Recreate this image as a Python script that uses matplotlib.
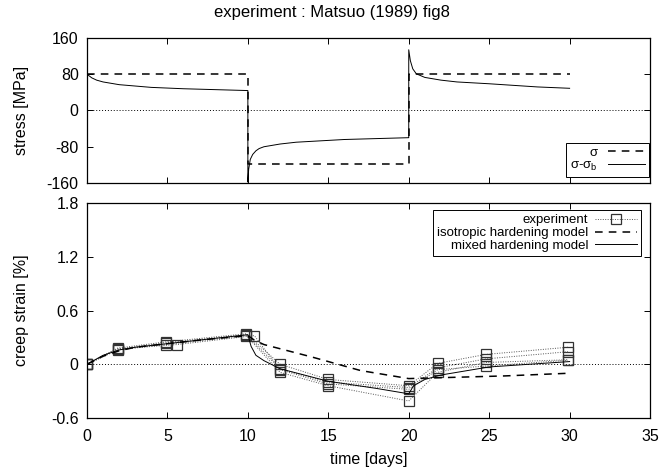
import numpy as np
import matplotlib
matplotlib.use("Agg")
from matplotlib import pyplot as plt

# --- stress panel ---
sig_t = [0, 10, 10, 20, 20, 30]
sig_v = [80, 80, -117, -117, 80, 80]

eff_t1 = [0, 0.3, 0.6, 1, 1.5, 2, 3, 4, 6, 8, 10]
eff_v1 = [80, 72, 67, 63, 60, 57, 54, 51, 48, 46, 44]
eff_t2 = [10, 10.05, 10.15, 10.3, 10.5, 10.7, 11, 12, 13, 14, 16, 18, 20]
eff_v2 = [-158, -130, -108, -97, -89, -84, -80, -74, -70, -68, -64, -62, -60]
eff_t3 = [20, 20.1, 20.25, 20.47, 21, 22, 23, 25, 28, 30]
eff_v3 = [134, 110, 92, 81, 73, 67, 63, 59, 52, 49]

# --- creep strain panel ---
exp_t = [0, 1.9, 4.9, 9.9, 12, 15, 20, 21.8, 24.8, 29.9]
exp_a = [0, 0.18, 0.25, 0.34, 0.0, -0.17, -0.24, 0.01, 0.11, 0.19]
exp_b = [0, 0.17, 0.24, 0.33, -0.05, -0.20, -0.26, -0.04, 0.06, 0.14]
exp_c = [0, 0.16, 0.22, 0.32, -0.09, -0.24, -0.41, -0.09, 0.02, 0.05]
exp_t_d = [0, 1.9, 5.6, 10.4, 12, 15, 20, 21.8, 24.8, 29.9]
exp_d = [0, 0.17, 0.22, 0.32, -0.06, -0.22, -0.28, -0.06, -0.02, 0.045]

iso_t = [0, 1, 2, 3, 5, 7, 10, 10.4, 11, 14, 17, 20, 22, 26, 30]
iso_v = [0, 0.09, 0.15, 0.19, 0.23, 0.27, 0.32, 0.27, 0.22, 0.08, -0.07, -0.16, -0.15, -0.13, -0.10]

mix_t = [0, 1, 2, 3, 5, 7, 10, 10.2, 10.5, 11, 12, 15, 18, 20,
         20.3, 21, 22, 25, 30]
mix_v = [0, 0.10, 0.16, 0.19, 0.23, 0.27, 0.33, 0.2, 0.1, 0.04, -0.05, -0.19, -0.27, -0.33,
         -0.24, -0.17, -0.12, -0.03, 0.03]

plt.rcParams['font.family'] = ['Liberation Sans', 'DejaVu Sans']
plt.rcParams['font.size'] = 11.5
plt.rcParams['mathtext.fontset'] = 'custom'
plt.rcParams['mathtext.rm'] = 'Liberation Sans'
plt.rcParams['axes.unicode_minus'] = False

fig = plt.figure(figsize=(6.64, 4.72), dpi=100)
ax1 = fig.add_axes([0.131, 0.6123, 0.848, 0.3072])
ax2 = fig.add_axes([0.131, 0.1144, 0.848, 0.4555])

for ax in (ax1, ax2):
    ax.tick_params(direction='in', top=True, right=True, length=4, width=0.7, labelsize=11.5)
    ax.tick_params(axis='x', pad=8)
    ax.tick_params(axis='y', pad=6)
    for s in ax.spines.values():
        s.set_linewidth(0.9)
    ax.axhline(0, color='black', lw=0.7, ls=(0, (1, 2)))
    ax.set_xlim(0, 35)
    ax.set_xticks(range(0, 36, 5))

ax1.plot(sig_t, sig_v, color='black', lw=1.1, ls=(0, (5, 4)), label='σ')
ax1.plot(eff_t1 + eff_t2 + eff_t3, eff_v1 + eff_v2 + eff_v3, color='black', lw=0.7,
         label=r'σ-σ$_{\mathrm{b}}$')
ax1.set_ylim(-160, 160)
ax1.set_yticks([-160, -80, 0, 80, 160])
ax1.set_xticklabels([])
ax1.set_ylabel('stress [MPa]')
ax1.yaxis.set_label_coords(-0.103, 0.5)
fig.text(0.5, 1 - 13 / 472, 'experiment : Matsuo (1989) fig8', ha='center', va='center', fontsize=12)
leg1 = ax1.legend(loc='lower right', bbox_to_anchor=(0.998, 0.041), markerfirst=False,
                  fontsize=9.5, fancybox=False, edgecolor='black', framealpha=1,
                  borderaxespad=0, handlelength=2.8, borderpad=0.3, labelspacing=0.05,
                  handletextpad=0.8)
leg1.get_frame().set_linewidth(0.7)

mk = dict(color='#555555', lw=0.7, ls=(0, (1, 1.5)), marker='s', ms=6.5,
          mfc='none', mec='#333333', mew=0.9)
ax2.plot(exp_t, exp_a, label='experiment', **mk)
ax2.plot(exp_t, exp_b, **mk)
ax2.plot(exp_t, exp_c, **mk)
ax2.plot(exp_t_d, exp_d, **mk)
ax2.plot(iso_t, iso_v, color='black', lw=1.1, ls=(0, (5, 4)), label='isotropic hardening model')
ax2.plot(mix_t, mix_v, color='black', lw=0.7, label='mixed hardening model')
ax2.set_ylim(-0.6, 1.8)
ax2.set_yticks([-0.6, 0, 0.6, 1.2, 1.8])
ax2.set_yticklabels(['-0.6', '0', '0.6', '1.2', '1.8'])
ax2.set_xlabel('time [days]')
ax2.xaxis.set_label_coords(0.5, -0.16)
ax2.set_ylabel('creep strain [%]')
ax2.yaxis.set_label_coords(-0.103, 0.5)
leg2 = ax2.legend(loc='upper right', bbox_to_anchor=(0.984, 0.967), markerfirst=False,
                  fontsize=9.5, fancybox=False, edgecolor='black', framealpha=1,
                  borderaxespad=0, handlelength=3.2, borderpad=0.3, labelspacing=0.05,
                  handletextpad=0.5)
leg2.get_frame().set_linewidth(0.7)

fig.savefig('out.png', dpi=100)
